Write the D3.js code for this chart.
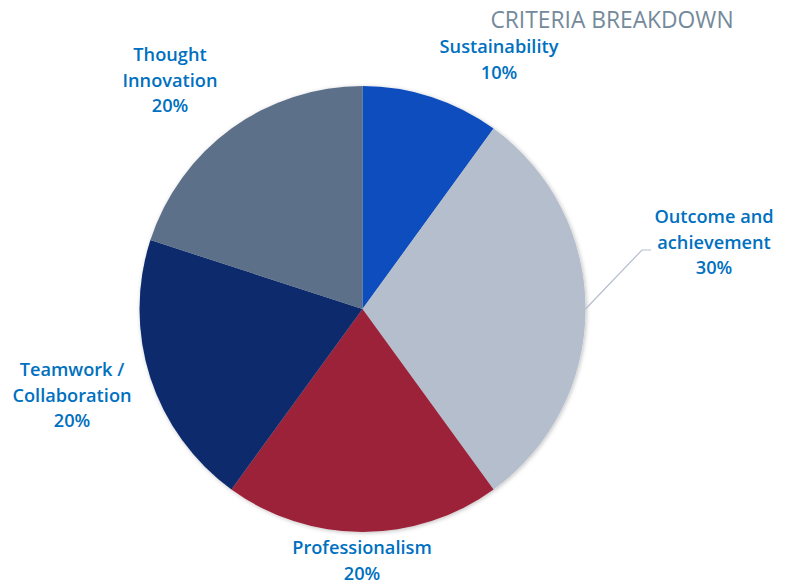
<!DOCTYPE html>
<html><head><meta charset="utf-8">
<script src="https://cdn.jsdelivr.net/npm/d3@7"></script>
<style>body{margin:0;background:#fff;} text{font-family:"Open Sans",sans-serif;}</style>
</head><body>
<svg id="c" width="791" height="585"></svg>
<script>
const categories = ["Sustainability", "Outcome and achievement", "Professionalism", "Teamwork / Collaboration", "Thought Innovation"];
const values = [10, 30, 20, 20, 20];
const labelLines = [["Sustainability","10%"],["Outcome and","achievement","30%"],["Professionalism","20%"],["Teamwork /","Collaboration","20%"],["Thought","Innovation","20%"]];
const colors = ["#0F4DBE", "#B5BECD", "#9B2139", "#0B2C6D", "#5D7089"];
const title = "CRITERIA BREAKDOWN";

const svg = d3.select("#c");
const cx = 362.5, cy = 309, R = 223;
const defs = svg.append("defs");
const f = defs.append("filter").attr("id","sh").attr("x","-10%").attr("y","-10%").attr("width","120%").attr("height","120%");
f.append("feDropShadow").attr("dx",1).attr("dy",1).attr("stdDeviation",2).attr("flood-color","#000").attr("flood-opacity",0.25);

const pie = d3.pie().sort(null).value(d => d)(values);
const arc = d3.arc().innerRadius(0).outerRadius(R);
const g = svg.append("g").attr("transform",`translate(${cx},${cy})`);
g.append("g").attr("filter","url(#sh)").selectAll("path").data(pie).join("path")
  .attr("d", arc).attr("fill",(d,i)=>colors[i]);

// label positions (centers of text blocks)
const labelPos = [[499,47],[714,217],[362,548],[72,370],[170,55]];
const lh = 25.5;
labelLines.forEach((lines,i)=>{
  const t = svg.append("text").attr("text-anchor","middle").attr("fill","#0070C0")
    .attr("font-size",18.2).attr("font-weight",600);
  lines.forEach((ln,j)=>{
    t.append("tspan").attr("x",labelPos[i][0]).attr("y",labelPos[i][1]+j*lh).attr("dy","0.35em").text(ln);
  });
});

// leader line for Outcome
const a1 = pie[1];
const mid = (a1.startAngle + a1.endAngle)/2;
const px = cx + R*Math.sin(mid), py = cy - R*Math.cos(mid);
svg.append("polyline").attr("points",`${px},${py} ${642},${250} ${651},${250}`)
  .attr("fill","none").attr("stroke","#B5BECD").attr("stroke-width",1.2);

svg.append("text").attr("x",612).attr("y",28).attr("text-anchor","middle")
  .attr("fill","#748A9B").attr("font-size",22.8).text(title);
</script>
</body></html>
